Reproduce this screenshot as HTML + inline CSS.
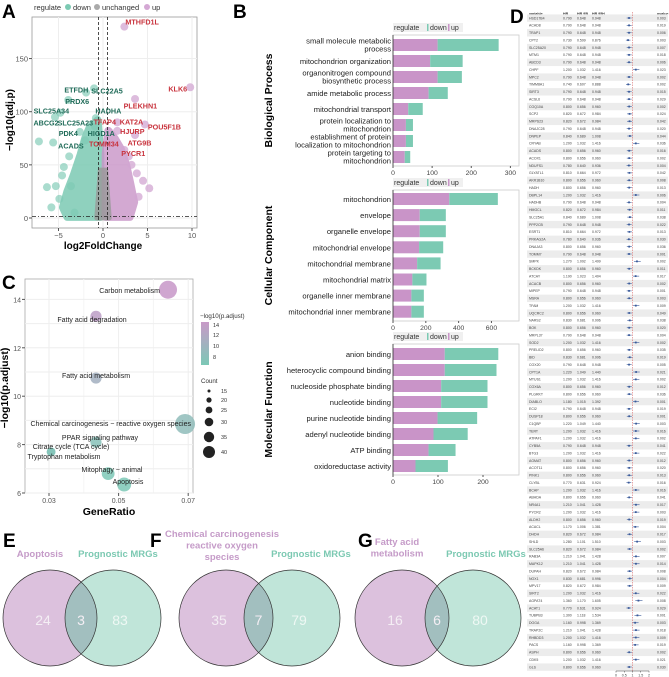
<!DOCTYPE html>
<html><head><meta charset="utf-8">
<style>
html,body{margin:0;padding:0;background:#fff;}
svg{display:block;font-family:"Liberation Sans",Arial,sans-serif;}
</style></head>
<body>
<svg id="fig" width="669" height="677" viewBox="0 0 669 677" xmlns="http://www.w3.org/2000/svg">
<g id="pA"></g>
<g id="pB"></g>
<g id="pC"></g>
<g id="pD"></g>
<g id="pE"></g>
</svg>
<script>
// ---------- Panel A data ----------
const downX=[-7.2,-5.6,-5.3,-6.3,-4.9,-5.4,-4.8,-3.9,-1.9,-1.0,-0.8,-0.9,-2.6,-2.0,-4.4,-3.8,-3.2,-5.8,-4.6,-3.6];
const downY=[72,71,30,29,18,95,99,111,118,122,94,86,81,73,48,58,5,10,40,30];
const upX=[2.4,9.8,3.6,4.7,1.6,1.6,3.6,2.4,1.1,4.5,3.8,3.2,4.0,2.9,5.2];
const upY=[180,123,112,88,90,82,78,64,70,35,42,50,20,58,28];
const downCloudX=[-0.3,-4,-4.5,-4,-3.3,-2.5,-2,-1.5,-0.6,-0.3];
const downCloudY=[1,1,10,25,40,60,75,85,92,60];
const upCloudX=[0.3,3,3.5,3,2.6,2,1.3,0.6,0.3];
const upCloudY=[1,1,15,35,50,65,75,82,60];
const geneLabels=["MTHFD1L","KLK6","PLEKHN1","POU5F1B","KAT2A","TFAP4","HJURP","ATG9B","TOMM34","PYCR1","ETFDH","SLC22A5","PRDX6","SLC25A34","HADHA","ABCG2","SLC25A23","PDK4","HIGD1A","ACADS"];
const geneLabelX=[4.4,8.4,4.2,6.9,3.2,0.2,3.3,4.1,0.1,3.4,-3.0,0.45,-2.9,-5.8,0.6,-6.4,-3.1,-3.9,-0.2,-3.6];
const geneLabelY=[185,122,106,86,91,91,82,71,70,61,121,120,110,101,101,90,90,80,80,68];
const geneLabelUp=[1,1,1,1,1,1,1,1,1,1,0,0,0,0,0,0,0,0,0,0];
const volXTicks=[-5,0,5,10];
const volYTicks=[0,50,100,150];
// ---------- Panel B data ----------
const bpCats=[["small molecule metabolic","process"],["mitochondrion organization"],["organonitrogen compound","biosynthetic process"],["amide metabolic process"],["mitochondrial transport"],["protein localization to","mitochondrion"],["establishment of protein","localization to mitochondrion"],["protein targeting to","mitochondrion"]];
const bpUp=[114,95,114,91,39,33,33,30];
const bpDown=[156,83,62,49,37,18,18,14];
const bpTicks=[0,100,200,300];
const ccCats=[["mitochondrion"],["envelope"],["organelle envelope"],["mitochondrial envelope"],["mitochondrial membrane"],["mitochondrial matrix"],["organelle inner membrane"],["mitochondrial inner membrane"]];
const ccUp=[343,163,163,159,147,118,112,112];
const ccDown=[296,159,159,147,143,86,76,76];
const ccTicks=[0,200,400,600];
const mfCats=[["anion binding"],["heterocyclic compound binding"],["nucleoside phosphate binding"],["nucleotide binding"],["purine nucleotide binding"],["adenyl nucleotide binding"],["ATP binding"],["oxidoreductase activity"]];
const mfUp=[115,115,107,107,99,90,79,50];
const mfDown=[119,115,103,103,88,76,60,72];
const mfTicks=[0,100,200];
// ---------- Panel C data ----------
const keggTerms=["Carbon metabolism","Fatty acid degradation","Fatty acid metabolism","Chemical carcinogenesis − reactive oxygen species","PPAR signaling pathway","Citrate cycle (TCA cycle)","Tryptophan metabolism","Mitophagy − animal","Apoptosis"];
const keggRatio=[0.0642,0.0435,0.0435,0.0691,0.0435,0.0306,0.0306,0.047,0.0516];
const keggLogP=[14.4,13.3,10.75,8.85,8.1,7.7,7.7,6.8,6.35];
const keggCount=[35,18,18,40,18,12,12,22,25];
const keggXTicks=[0.03,0.05,0.07];
const keggYTicks=[6,8,10,12,14];
// ---------- Panel D data ----------
const fGenes=["HSD17B4","ACAD8","TRAP1","CPT2","SLC25A20","MTM1","ABCD3","CHPF","MPC2","TIMM8A1","SIRT3","ACSL6","COQ10A","SCP2","MRPS23","DNAJC28","DNPEP","CRYAB","ACADS","ACOX1","NDUFS1","GLYATL1","AKR1B10","HADH","DBPL14","HADHB","HMGCL","SLC25A1","PPP2CB","ESRT1","PRKAG2A","DNAJA3","TOMM7","SMPK","BCKDK","ATCAY","ACACB","MIPEP","MSRA","TFAM","UQCRC2","NARS2","BOK","MRPL37","SOD2","PRELID2","BID","COX20","CPT1A","MTUS1","COX6A","PLGRKT","DIABLO","ECI2","DUSP18","C1QBP","TERT","ATPAF1","CYB5A","BTG3","AGMAT","ACOT11","PINK1","CLYBL","BCAP","ABHDA","NR4A1","PYCR2","ALDH2","ACACL","DHDH","SHLD","SLC25A6","RAB3A","MAPK12","DUPAH","NOX1","MPV17","SIRT2","AGPAT4","ACAT1","TUBPB3","DOGA","TRAP2C","RHBDD3","PACS","ASPH","CDK5","GLS"];
const fHR=[0.79,0.79,0.79,0.73,0.79,0.79,0.79,1.2,0.79,0.74,0.79,0.79,0.8,0.82,0.82,0.79,0.84,1.2,0.8,0.8,0.78,0.81,0.8,0.8,1.2,0.79,0.82,0.84,0.79,0.81,0.78,0.8,0.79,1.27,0.8,1.19,0.8,0.79,0.8,1.2,0.8,0.83,0.8,0.79,1.2,0.8,0.83,0.79,1.22,1.2,0.8,0.8,1.18,0.79,0.8,1.22,1.2,1.2,0.79,1.2,0.8,0.8,0.8,0.77,1.2,0.8,1.21,1.2,0.8,1.17,0.82,1.28,0.82,1.21,1.21,0.82,0.83,0.82,1.2,1.36,0.77,1.3,1.16,1.21,1.2,1.16,0.8,1.2,0.8];
const fLo=fHR.map(v=>v>1?+(v*0.86).toFixed(3):+(v*0.82).toFixed(3));
const fHi=fHR.map(v=>v>1?+(v*1.18).toFixed(3):+(v*1.2).toFixed(3));
const fP=[0.003,0.019,0.006,0.003,0.007,0.018,0.006,0.023,0.002,0.002,0.015,0.029,0.002,0.024,0.042,0.02,0.044,0.036,0.016,0.002,0.004,0.042,0.008,0.013,0.006,0.004,0.011,0.038,0.022,0.013,0.03,0.036,0.001,0.002,0.011,0.017,0.002,0.001,0.003,0.009,0.049,0.038,0.02,0.004,0.002,0.035,0.019,0.005,0.021,0.002,0.012,0.036,0.001,0.019,0.001,0.003,0.016,0.002,0.041,0.022,0.012,0.02,0.013,0.016,0.016,0.041,0.017,0.003,0.019,0.004,0.017,0.003,0.002,0.007,0.014,0.008,0.004,0.009,0.022,0.008,0.029,0.001,0.003,0.018,0.009,0.019,0.002,0.021,0.03];
const fTicks=[0,0.5,1,1.5,2];
// ---------- Venn data ----------
const vennLeft=["Apoptosis","Chemical carcinogenesis|reactive oxygen|species","Fatty acid|metabolism"];
const vennOnlyA=[24,35,16];
const vennShared=[3,7,6];
const vennOnlyB=[83,79,80];

const NS="http://www.w3.org/2000/svg";
function el(parent,tag,attrs,text){const e=document.createElementNS(NS,tag);for(const k in attrs)e.setAttribute(k,attrs[k]);if(text!==undefined)e.textContent=text;parent.appendChild(e);return e;}

const PUR="#c994c8", GRN="#7ccab3";

// ================= Panel A =================
(function(){
const g=document.getElementById('pA');
const sx=v=>103+v*8.9, sy=v=>218-v*1.063;
let t=el(g,'text',{x:2,y:18,'font-size':19,'font-weight':'bold'},'A');

// legend
const lg=el(g,'g',{});

el(lg,'text',{x:34,y:10,'font-size':7.5,fill:'#333'},'regulate');
[[68,GRN,73,'down'],[97,'#aaa',102,'unchanged'],[147,'#d4a8d4',152,'up']].forEach(d=>{
 el(lg,'circle',{cx:d[0],cy:7,r:3,fill:d[1]});
 el(lg,'text',{x:d[2],y:10,'font-size':7.5,fill:'#333'},d[3]);
});
// frame and grid
el(g,'rect',{x:32,y:17,width:165,height:211,fill:'#fff',stroke:'#999','stroke-width':0.8});
volXTicks.forEach(v=>el(g,'line',{x1:sx(v),x2:sx(v),y1:17,y2:228,stroke:'#eee'}));
volYTicks.forEach(v=>el(g,'line',{x1:32,x2:197,y1:sy(v),y2:sy(v),stroke:'#eee'}));
// clouds
let pts=downCloudX.map((x,i)=>sx(x)+','+sy(downCloudY[i])).join(' ');
let p=el(g,'polygon',{points:pts,fill:GRN,stroke:GRN,'stroke-width':8,'stroke-linejoin':'round',opacity:0.85});

pts=upCloudX.map((x,i)=>sx(x)+','+sy(upCloudY[i])).join(' ');
p=el(g,'polygon',{points:pts,fill:PUR,stroke:PUR,'stroke-width':8,'stroke-linejoin':'round',opacity:0.8});

p=el(g,'polygon',{points:[sx(-0.7)+','+sy(0),sx(0.7)+','+sy(0),sx(0.3)+','+sy(45),sx(-0.3)+','+sy(45)].join(' '),fill:'#999',stroke:'#999','stroke-width':5,'stroke-linejoin':'round',opacity:0.8});

downX.forEach((x,i)=>{const c=el(g,'circle',{cx:sx(x),cy:sy(downY[i]),r:4,fill:GRN,opacity:0.65});
 });
upX.forEach((x,i)=>{const c=el(g,'circle',{cx:sx(x),cy:sy(upY[i]),r:4,fill:'#d2a6d2',opacity:0.75});
 });
// threshold lines
[-0.5,0.5].forEach(v=>el(g,'line',{x1:sx(v),x2:sx(v),y1:17,y2:228,stroke:'#222','stroke-width':0.8,'stroke-dasharray':'3,2'}));
el(g,'line',{x1:32,x2:197,y1:sy(1.3),y2:sy(1.3),stroke:'#222','stroke-width':0.8,'stroke-dasharray':'4,2,1,2'});
// labels
geneLabels.forEach((n,i)=>{const tt=el(g,'text',{x:sx(geneLabelX[i]),y:sy(geneLabelY[i])+3,'text-anchor':'middle','font-size':7.2,'font-weight':'bold',fill:geneLabelUp[i]?'#c8323c':'#1f6b58'},n);
 });
// axes
volXTicks.forEach(v=>{el(g,'line',{x1:sx(v),x2:sx(v),y1:228,y2:231,stroke:'#555'});el(g,'text',{x:sx(v),y:238,'text-anchor':'middle','font-size':7.5,fill:'#555'},v===-5?'−5':v);});
volYTicks.forEach(v=>{el(g,'line',{x1:29,x2:32,y1:sy(v),y2:sy(v),stroke:'#555'});el(g,'text',{x:28,y:sy(v)+3,'text-anchor':'end','font-size':7.5,fill:'#555'},v);});
t=el(g,'text',{x:103,y:249,'text-anchor':'middle','font-size':10,'font-weight':'bold'},'log2FoldChange');

t=el(g,'text',{x:0,y:0,'text-anchor':'middle','font-size':10,'font-weight':'bold',transform:'translate(13,120) rotate(-90)'},'−log10(adj.p)');

})();

// ================= Panel B =================
(function(){
const g=document.getElementById('pB');
let t=el(g,'text',{x:233,y:18,'font-size':19,'font-weight':'bold'},'B');

function chart(name,title,cats,up,down,ticks,maxV,top,rows,bottom,rowStep){
 const cg=el(g,'g',{});
 const x0=393,w=126,sx=v=>x0+v*w/maxV;
 // legend strip
 el(cg,'rect',{x:393,y:top-12,width:70,height:9,fill:'#f0f0f0'});
 el(cg,'text',{x:394,y:top-5,'font-size':7,fill:'#333'},'regulate');
 el(cg,'rect',{x:427,y:top-11,width:1.5,height:7,fill:GRN});
 el(cg,'text',{x:430,y:top-5,'font-size':7,fill:'#333'},'down');
 el(cg,'rect',{x:448,y:top-11,width:1.5,height:7,fill:PUR});
 el(cg,'text',{x:451,y:top-5,'font-size':7,fill:'#333'},'up');
 el(cg,'rect',{x:x0,y:top,width:w,height:bottom-top,fill:'#fff',stroke:'#ccc','stroke-width':0.8});
 cats.forEach((c,i)=>{
  const cy=rows+i*rowStep;
  const b1=el(cg,'rect',{x:x0,y:cy-6,width:sx(up[i])-x0,height:12,fill:PUR});
  
  const b2=el(cg,'rect',{x:sx(up[i]),y:cy-6,width:sx(up[i]+down[i])-sx(up[i]),height:12,fill:GRN});
  
  if(c.length===1) el(cg,'text',{x:391,y:cy+3,'text-anchor':'end','font-size':7.6,fill:'#222'},c[0]);
  else {el(cg,'text',{x:391,y:cy-1.5,'text-anchor':'end','font-size':7.6,fill:'#222'},c[0]);
        el(cg,'text',{x:391,y:cy+6.5,'text-anchor':'end','font-size':7.6,fill:'#222'},c[1]);}
 });
 el(cg,'line',{x1:x0,x2:x0,y1:top,y2:bottom,stroke:'#333','stroke-width':0.8});
 ticks.forEach(v=>{el(cg,'line',{x1:sx(v),x2:sx(v),y1:bottom,y2:bottom+2,stroke:'#555'});
  el(cg,'text',{x:sx(v),y:bottom+9,'text-anchor':'middle','font-size':6.8,fill:'#444'},v);});
 const mid=(top+bottom)/2;
 const tt=el(cg,'text',{x:0,y:0,'text-anchor':'middle','font-size':10.5,'font-weight':'bold',transform:`translate(272,${mid}) rotate(-90)`},title);
 
}
chart('bp-chart','Biological Process',bpCats,bpUp,bpDown,bpTicks,322,35,45,166,16);
chart('cc-chart','Cellular Component',ccCats,ccUp,ccDown,ccTicks,768,190,199,321,16.1);
chart('mf-chart','Molecular Function',mfCats,mfUp,mfDown,mfTicks,280,344,354,475,16);
})();

// ================= Panel C =================
(function(){
const g=document.getElementById('pC');
const sx=v=>49+(v-0.03)*3480, sy=v=>493-(v-6)*24.2;
let t=el(g,'text',{x:2,y:289,'font-size':19,'font-weight':'bold'},'C');

t=el(g,'text',{x:26,y:289,'font-size':12,'font-weight':'bold'},'KEGG');

el(g,'rect',{x:25,y:279,width:168,height:214,fill:'#fff',stroke:'#aaa','stroke-width':0.8});
[0.03,0.04,0.05,0.06,0.07].forEach(v=>el(g,'line',{x1:sx(v),x2:sx(v),y1:279,y2:493,stroke:v*100%2?'#eee':'#f4f4f4'}));
[6,7,8,9,10,11,12,13,14].forEach(v=>el(g,'line',{x1:25,x2:193,y1:sy(v),y2:sy(v),stroke:'#eee'}));
function col(l){const f=Math.max(0,Math.min(1,(l-7)/7.5));
 const a=[124,200,182],b=[200,150,200];return `rgb(${a.map((c,i)=>Math.round(c+(b[i]-c)*f)).join(',')})`;}
keggTerms.forEach((n,i)=>{const c=el(g,'circle',{cx:sx(keggRatio[i]),cy:sy(keggLogP[i]),r:2+keggCount[i]*0.2,fill:col(keggLogP[i]),opacity:0.85});
 });
const lab=[[160,293,'end'],[92,322,'middle'],[96,378,'middle'],[191,426,'end'],[100,440,'middle'],[71,449,'middle'],[64,459,'middle'],[112,472,'middle'],[128,484,'middle']];
keggTerms.forEach((n,i)=>{const tt=el(g,'text',{x:lab[i][0],y:lab[i][1],'text-anchor':lab[i][2],'font-size':7,fill:'#222'},n);
 });
keggXTicks.forEach(v=>{el(g,'line',{x1:sx(v),x2:sx(v),y1:493,y2:496,stroke:'#555'});el(g,'text',{x:sx(v),y:503,'text-anchor':'middle','font-size':7,fill:'#555'},v);});
keggYTicks.forEach(v=>{el(g,'line',{x1:22,x2:25,y1:sy(v),y2:sy(v),stroke:'#555'});el(g,'text',{x:21,y:sy(v)+3,'text-anchor':'end','font-size':7,fill:'#555'},v);});
t=el(g,'text',{x:109,y:515,'text-anchor':'middle','font-size':10.5,'font-weight':'bold'},'GeneRatio');

t=el(g,'text',{x:0,y:0,'text-anchor':'middle','font-size':10.5,'font-weight':'bold',transform:'translate(8,388) rotate(-90)'},'−log10(p.adjust)');

// legends
const lg=el(g,'g',{});
el(lg,'text',{x:200,y:318,'font-size':6.2,fill:'#333'},'−log10(p.adjust)');
const gr=el(lg,'linearGradient',{id:'cb',x1:0,y1:0,x2:0,y2:1});
el(gr,'stop',{offset:0,'stop-color':'#c89ac8'});el(gr,'stop',{offset:1,'stop-color':'#7cc8b6'});
el(lg,'rect',{x:201,y:322,width:8,height:43,fill:'url(#cb)'});
[[14,325],[12,335],[10,346],[8,357]].forEach(d=>el(lg,'text',{x:213,y:d[1]+2,'font-size':5.5,fill:'#333'},d[0]));
el(lg,'text',{x:201,y:383,'font-size':6.2,fill:'#333'},'Count');
[[15,391,1.5],[20,400,2.6],[25,410,3.4],[30,422,4.3],[35,437,5.2],[40,452,6]].forEach(d=>{
 el(lg,'circle',{cx:209,cy:d[1],r:d[2],fill:'#222'});el(lg,'text',{x:221,y:d[1]+2,'font-size':5.5,fill:'#333'},d[0]);});
})();

// ================= Panel D =================
(function(){
const g=document.getElementById('pD');
let t=el(g,'text',{x:510,y:23,'font-size':19,'font-weight':'bold'},'D');

const top=18,step=(667-18)/(fGenes.length-1);
const sx=v=>616+v*16.5;
const hdr=[[529,'start','variable'],[563,'start','HR'],[577,'start','HR.95L'],[592,'start','HR.95H'],[657,'start','pvalue']];
hdr.forEach(h=>el(g,'text',{x:h[0],y:15,'font-size':3.6,'font-weight':'bold',fill:'#333'},h[2]));
fGenes.forEach((n,i)=>{
 const y=top+i*step;
 if(i%2===0) el(g,'rect',{x:527,y:y-3.6,width:141,height:step,fill:'#ececec'});
 const row=el(g,'g',{});
 el(row,'text',{x:529,y:y+1.3,'font-size':3.5,fill:'#444'},n);
 el(row,'text',{x:563,y:y+1.3,'font-size':3.5,fill:'#444'},fHR[i].toFixed(3));
 el(row,'text',{x:577,y:y+1.3,'font-size':3.5,fill:'#444'},fLo[i].toFixed(3));
 el(row,'text',{x:592,y:y+1.3,'font-size':3.5,fill:'#444'},fHi[i].toFixed(3));
 el(row,'text',{x:657,y:y+1.3,'font-size':3.5,fill:'#444'},fP[i].toFixed(3));
 el(row,'line',{x1:sx(fLo[i]),x2:sx(fHi[i]),y1:y,y2:y,stroke:'#3a5a9a','stroke-width':0.6});
 el(row,'rect',{x:sx(fHR[i])-0.9,y:y-0.9,width:1.8,height:1.8,fill:'#3a5a9a'});
});
el(g,'line',{x1:sx(1),x2:sx(1),y1:12,y2:671,stroke:'#d05050','stroke-width':0.5,'stroke-dasharray':'1.5,1'});
el(g,'line',{x1:sx(0),x2:sx(2),y1:671,y2:671,stroke:'#444','stroke-width':0.5});
fTicks.forEach(v=>{el(g,'line',{x1:sx(v),x2:sx(v),y1:671,y2:672.5,stroke:'#444','stroke-width':0.5});
 el(g,'text',{x:sx(v),y:676.5,'text-anchor':'middle','font-size':3.6,fill:'#444'},v);});
})();

// ================= Venns =================
(function(){
const g=document.getElementById('pE');
const letters=[['E',3,547],['F',150,547],['G',358,547]];
letters.forEach(l=>{const t=el(g,'text',{x:l[1],y:l[2],'font-size':19,'font-weight':'bold'},l[0]);
 });
const cxA=[50,226,402], cxB=[113,292,473], labX=[40,222,397], mrgX=[118,311,486];
vennLeft.forEach((lab,i)=>{
 const vg=el(g,'g',{});
 const cid='clip'+i;
 const cp=el(vg,'clipPath',{id:cid});el(cp,'ellipse',{cx:cxA[i],cy:618,rx:47,ry:48});
 el(vg,'ellipse',{cx:cxA[i],cy:618,rx:47,ry:48,fill:'#dcc1dd'});
 el(vg,'ellipse',{cx:cxB[i],cy:618,rx:48,ry:48,fill:'#c0e5d9'});
 el(vg,'ellipse',{cx:cxB[i],cy:618,rx:48,ry:48,fill:'#a2bfbf','clip-path':`url(#${cid})`});
 el(vg,'ellipse',{cx:cxA[i],cy:618,rx:47,ry:48,fill:'none',stroke:'#333','stroke-width':0.7});
 el(vg,'ellipse',{cx:cxB[i],cy:618,rx:48,ry:48,fill:'none',stroke:'#333','stroke-width':0.7});
 const lA=cxA[i]-7, mid=(cxA[i]+47+cxB[i]-48)/2, rB=cxB[i]+7;
 el(vg,'text',{x:lA,y:625,'text-anchor':'middle','font-size':14,fill:'#f4eef4'},vennOnlyA[i]);
 el(vg,'text',{x:mid,y:625,'text-anchor':'middle','font-size':14,fill:'#f4eef4'},vennShared[i]);
 el(vg,'text',{x:rB,y:625,'text-anchor':'middle','font-size':14,fill:'#eef8f4'},vennOnlyB[i]);
 const lines=lab.split('|');
 const y0=lines.length===1?557:(lines.length===2?545:537);
 lines.forEach((s,k)=>el(vg,'text',{x:labX[i],y:y0+k*11.5,'text-anchor':'middle','font-size':9.5,'font-weight':'bold',fill:'#c59bc8'},s));
 el(vg,'text',{x:mrgX[i],y:557,'text-anchor':'middle','font-size':9.5,'font-weight':'bold',fill:'#7cc9b2'},'Prognostic MRGs');
});
})();
</script>
</body></html>
